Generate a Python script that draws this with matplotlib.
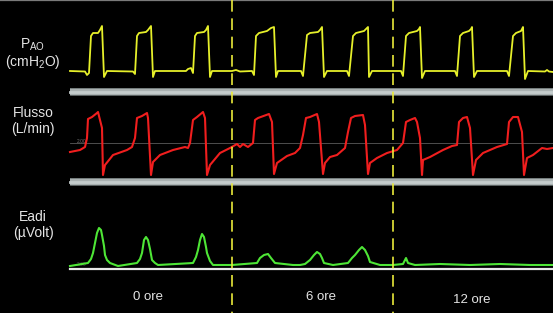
import numpy as np
import matplotlib.pyplot as plt
from matplotlib.patches import Rectangle

# ---------------------------------------------------------
# Traces (screen units)
# ---------------------------------------------------------
paw_t = [70, 85, 87, 89, 91, 93, 98, 100, 102, 104, 107,
         133, 135, 137, 139, 146, 148, 151, 153, 155,
         186, 188, 191, 193, 195, 197, 204, 206, 208, 210, 212,
         232, 236, 240, 252, 254, 256, 259, 267, 271, 274, 276, 278,
         301, 303, 307, 310, 318, 320, 322, 324, 327,
         347, 349, 353, 356, 364, 366, 368, 369, 372,
         401, 403, 406, 409, 417, 419, 420, 422, 425,
         455, 457, 460, 463, 469, 471, 472, 474, 477,
         507, 509, 513, 516, 521, 522, 523, 525, 528, 545, 547, 549, 553]
paw_v = [71, 71.5, 75, 73, 36, 33, 33, 30, 26, 77, 71,
         71.5, 74, 36, 33, 32, 30, 26, 77, 71,
         71, 69, 68, 73, 36, 33, 32, 30, 26, 77, 71,
         71, 70, 71.5, 71, 75, 36, 33, 31, 28, 27, 77, 71,
         71, 76, 35, 33, 32, 30, 27, 77, 71,
         71, 76, 36, 33, 31, 29, 27, 77, 71,
         71, 76, 36, 33, 31, 29, 27, 78, 71,
         71, 76, 36, 33, 31, 29, 27, 77, 71,
         71, 76, 36, 33, 31, 29, 27, 79, 71, 71.5, 70, 71.5, 72]

flow_t = [70, 80, 85, 87, 88, 92, 97, 98, 102, 103, 105, 113, 127, 132,
          135, 137, 142, 147, 148, 151, 153, 160, 173, 185, 188, 190,
          193, 197, 203, 205, 207, 210, 220, 230, 237, 240, 243, 248, 253,
          255, 258, 269, 272, 274, 277, 287, 295, 300,
          303, 306, 310, 317, 319, 323, 325, 330, 337, 345,
          348, 351, 355, 363, 365, 368, 370, 377, 387, 397,
          403, 406, 410, 415, 417, 420, 422, 423, 430, 443, 452, 457,
          459, 463, 467, 470, 473, 476, 483, 497, 507,
          509, 513, 518, 522, 524, 527, 533, 542, 547, 553]
flow_v = [152, 150, 147, 138, 119, 117, 113, 112, 128, 175, 165, 155, 150, 147,
          138, 118, 116, 113, 118, 175, 162, 155, 150, 147, 148, 143,
          120, 117, 112, 118, 175, 165, 153, 148, 144, 147, 144, 147, 143,
          120, 118, 114, 122, 174, 163, 156, 153, 148,
          135, 118, 117, 114, 122, 174, 163, 157, 155, 148,
          132, 118, 116, 115, 125, 174, 163, 158, 153, 150,
          143, 122, 120, 118, 122, 138, 175, 160, 157, 150, 146, 145,
          122, 118, 117, 128, 175, 160, 153, 147, 144,
          122, 117, 117, 132, 175, 158, 155, 148, 149, 148]

eadi_t = [70, 88, 91, 93, 95, 97, 99, 101, 102, 104, 105, 107, 110, 118,
          137, 140, 142, 144, 146, 148, 150, 152, 155, 158,
          193, 196, 198, 200, 202, 204, 206, 207, 210, 213, 232,
          257, 260, 264, 268, 271, 275,
          293, 300, 305, 310, 314, 317, 320, 322, 324, 333,
          348, 352, 355, 359, 362, 365, 368, 370, 380, 393,
          403, 405, 406, 408, 415, 440, 470, 500, 530, 553]
eadi_v = [266, 263, 259, 253, 243, 233, 228, 230, 235, 246, 255, 260, 263, 266,
          263, 259, 253, 240, 237, 240, 249, 260, 263, 265,
          263, 257, 250, 240, 234, 237, 247, 253, 261, 265, 265,
          263, 258, 255, 254, 258, 263,
          265, 265, 264, 260, 255, 252, 254, 258, 263, 265,
          263, 258, 255, 250, 247, 250, 256, 262, 265, 265,
          264, 260, 258, 263, 265, 264, 265, 264, 265, 265]

dash_x = [232, 393]
trace_labels = [("P$_\\mathregular{AO}$", "(cmH$_\\mathregular{2}$O)"),
                ("Flusso", "(L/min)"),
                ("Eadi", "(\u00b5Volt)")]
label_y = [(45, 62), (113, 129), (217, 233)]
session_labels = ["0 ore", "6 ore", "12 ore"]
session_x = [148, 321, 472]
session_y = [297, 297, 300]

# ---------------------------------------------------------
# Figure
# ---------------------------------------------------------
plt.rcParams['font.family'] = ['Liberation Sans', 'DejaVu Sans']
fig = plt.figure(figsize=(5.53, 3.13), dpi=100, facecolor='black')
ax = fig.add_axes([0, 0, 1, 1])
ax.set_facecolor('black')
ax.set_xlim(0, 553)
ax.set_ylim(313, 0)
ax.axis('off')

# top border line
ax.plot([0, 553], [0.4, 0.4], color='#7a7a7a', lw=0.9)

# separator bars between channels
for y0 in (88, 178):
    ax.add_patch(Rectangle((70, y0), 483, 7, facecolor='#a9b1b1',
                           edgecolor='none', zorder=2))
    ax.plot([70, 553], [y0 + 3.5, y0 + 3.5], color='#c4cccc', lw=2, zorder=2)
    ax.plot([70, 553], [y0, y0], color='#6c7474', lw=0.6, zorder=2)
    ax.plot([70, 553], [y0 + 7, y0 + 7], color='#6c7474', lw=0.6, zorder=2)

# flow zero line and Eadi baseline
ax.plot([70, 553], [143, 143], color='#5a5a5a', lw=0.6, zorder=1)
ax.text(77, 141.5, "2.00", color='#707070', fontsize=3.5, va='center')
ax.plot([70, 553], [269, 269], color='#e8e8e8', lw=1.6, zorder=1)
ax.text(77, 265, "2.00", color='#505050', fontsize=3.5, va='center')

# traces
ax.plot(paw_t, paw_v, color='#e6f02a', lw=1.3, zorder=3)
ax.plot(flow_t, flow_v, color='#f01e1e', lw=1.5, zorder=3)
ax.plot(eadi_t, eadi_v, color='#4ee636', lw=1.5, zorder=3)

# session separators
for x in dash_x:
    ax.plot([x, x], [0, 313], color='#eaea3a', lw=1.2, ls=(0, (7, 4)), zorder=4)

# channel labels
for (l1, l2), (y1, y2) in zip(trace_labels, label_y):
    ax.text(33, y1, l1, color='#e4e4e4', fontsize=10, ha='center', va='center')
    ax.text(33, y2, l2, color='#e4e4e4', fontsize=10, ha='center', va='center')

for s, x, y in zip(session_labels, session_x, session_y):
    ax.text(x, y, s, color='#e4e4e4', fontsize=9.5, ha='center', va='center')

fig.savefig('out.png', dpi=100, facecolor='black')
